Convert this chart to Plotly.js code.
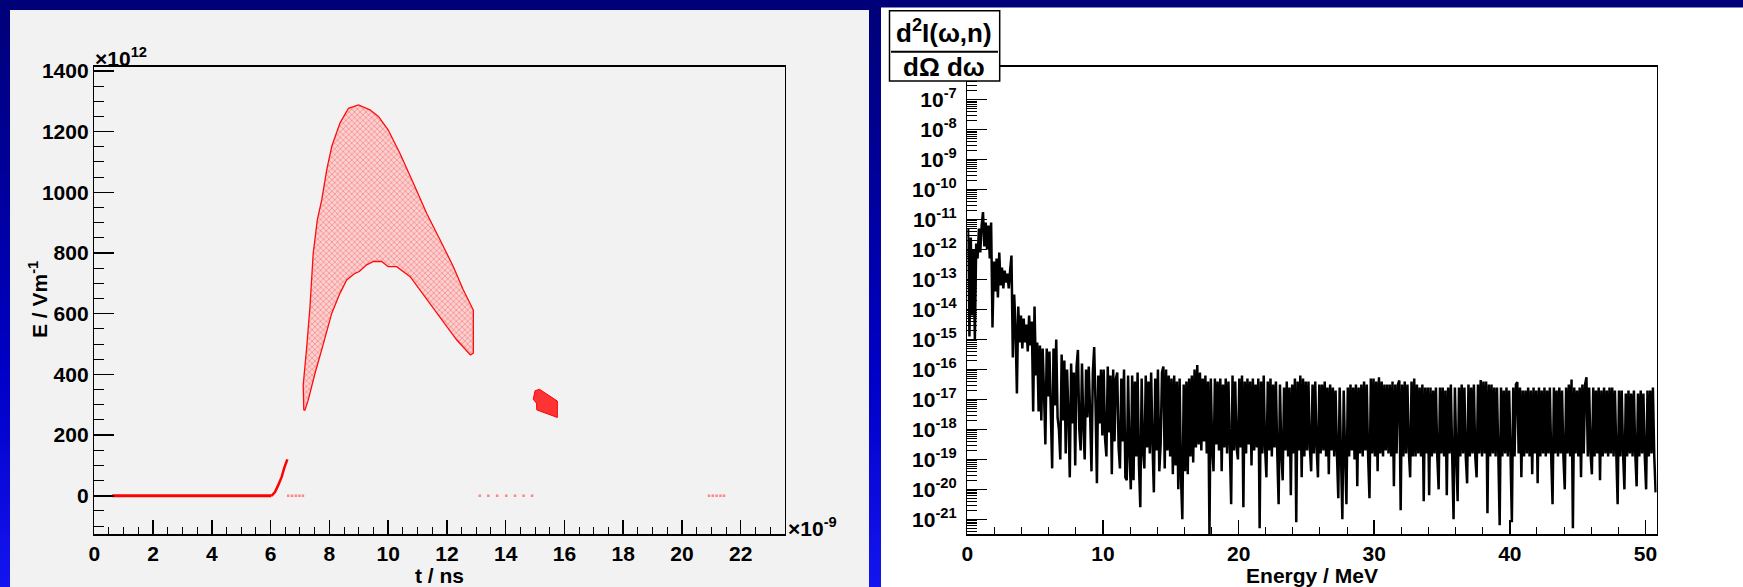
<!DOCTYPE html>
<html>
<head>
<meta charset="utf-8">
<script src="https://cdn.plot.ly/plotly-3.0.1.min.js"></script>
<style>
  html, body { margin:0; padding:0; }
  body { width:1743px; height:587px; overflow:hidden;
    background: linear-gradient(180deg, #000078 0%, #00009a 30%, #0000c8 65%, #1414f0 100%); }
  #chart { width:1743px; height:587px; }
</style>
</head>
<body>
<div id="chart"></div>
<script>
// ---------------- LEFT: E-field vs time (t in ns, E in 1e12 V/m) ----------------
const baseT = [0.61, 1.5, 3.0, 4.5, 5.6, 6.03];
const baseE = [0, 0, 0, 0, 0, 0];

const riseT = [6.03, 6.15, 6.26, 6.38, 6.46, 6.52, 6.57];
const riseE = [0, 12, 35, 63, 90, 108, 120];

// outline of the large pulse band (outer edge left->right, then inner edge right->left)
const humpT = [7.13, 7.11, 7.23, 7.34, 7.45, 7.59, 7.74, 7.91, 8.08, 8.36, 8.65, 8.99, 9.38, 9.67, 10.0, 10.4, 10.86, 11.31, 11.77, 12.22, 12.56, 12.85, 12.9, 12.9, 12.8,
               12.33, 11.82, 11.31, 10.75, 10.29, 10.0, 9.78, 9.5, 9.27, 9.1, 9.02, 8.87, 8.59, 8.36, 8.08, 7.8, 7.51, 7.28, 7.17, 7.13];
const humpE = [282, 365, 491, 623, 799, 909, 975, 1074, 1151, 1228, 1277, 1288, 1272, 1250, 1206, 1129, 1030, 931, 843, 755, 678, 623, 612, 470, 464,
               514, 580, 646, 722, 755, 755, 772, 772, 761, 744, 739, 733, 711, 667, 601, 502, 403, 315, 282, 282];

// small patch near 15 ns
const patchT = [14.94, 15.0, 15.15, 15.76, 15.76, 15.55, 15.06, 15.05, 14.94];
const patchE = [318, 346, 351, 312, 258, 265, 283, 305, 318];

// faint isolated samples on the zero line
const dotT = [6.6, 6.73, 6.86, 6.98, 7.1, 13.12, 13.41, 13.71, 14.02, 14.32, 14.61, 14.9, 20.92, 21.05, 21.18, 21.31, 21.43];
const dotE = [0, 0, 0, 0, 0, 0, 0, 0, 0, 0, 0, 0, 0, 0, 0, 0, 0];

const leftXTicks = [0, 2, 4, 6, 8, 10, 12, 14, 16, 18, 20, 22];
const leftYTicks = [0, 200, 400, 600, 800, 1000, 1200, 1400];

// ---------------- RIGHT: spectrum d2I/dOmega domega vs energy ----------------
// histogram: bins of 0.1 MeV starting at 0 MeV; values are log10 of bin content
const specBinStart = 0.0;
const specBinWidth = 0.1;
const specLog = [
 -11.3,-14.9,-11.6,-14.2,-12.0,-15.0,-11.8,-12.3,-11.3,-12.1,
 -11.2,-10.75,-11.9,-11.1,-12.0,-11.2,-12.3,-11.1,-14.6,-12.4,
 -13.4,-12.3,-13.6,-12.1,-13.2,-12.6,-13.3,-12.7,-13.1,-12.8,
 -13.3,-12.7,-12.2,-15.6,-13.5,-14.6,-16.8,-13.9,-15.1,-14.2,
 -15.3,-14.3,-15.1,-14.5,-15.4,-14.2,-15.2,-14.4,-17.4,-13.9,
 -16.2,-15.1,-17.4,-15.2,-17.7,-15.3,-16.8,-18.5,-15.3,-16.9,
 -15.4,-17.4,-19.3,-15.3,-17.2,-15.0,-17.6,-18.0,-19.0,-15.5,
 -17.7,-15.7,-18.8,-16.0,-17.5,-19.6,-15.8,-17.8,-16.1,-19.2,
 -15.9,-15.35,-18.0,-18.7,-15.8,-17.9,-19.0,-16.0,-17.6,-15.9,
 -17.5,-19.4,-16.1,-15.25,-17.2,-19.8,-16.2,-17.8,-16.0,-18.2,
 -16.0,-18.3,-18.9,-15.9,-18.1,-16.2,-19.5,-16.0,-18.4,-16.3,
 -16.1,-18.6,-19.3,-16.3,-18.4,-16.0,-19.6,-19.7,-16.2,-18.8,
 -20.0,-16.2,-19.7,-16.4,-18.9,-16.1,-19.2,-20.6,-16.3,-18.7,
 -19.3,-16.2,-18.6,-16.4,-18.8,-16.1,-18.5,-20.1,-16.3,-18.7,
 -16.0,-19.4,-18.5,-16.1,-15.9,-19.3,-16.0,-18.7,-16.2,-18.9,
 -16.3,-19.5,-16.2,-19.2,-16.4,-20.0,-16.3,-19.6,-21.0,-16.5,
 -19.4,-16.4,-19.5,-16.3,-18.9,-16.2,-19.1,-16.0,-18.6,-15.85,
 -18.5,-16.1,-18.7,-16.3,-18.4,-16.2,-18.8,-16.4,-21.5,-16.3,
 -18.6,-19.4,-16.3,-18.5,-16.4,-18.7,-16.3,-19.4,-16.5,-18.6,
 -16.3,-18.8,-16.4,-18.5,-20.5,-16.2,-18.7,-16.4,-18.6,-19.0,
 -16.3,-18.6,-16.2,-20.6,-16.4,-18.8,-16.3,-18.5,-16.4,-19.2,
 -16.3,-18.7,-16.5,-18.6,-16.3,-21.3,-16.4,-18.8,-16.2,-18.6,
 -19.6,-16.4,-18.7,-16.3,-18.9,-16.5,-18.6,-16.4,-18.8,-20.5,
 -16.5,-18.8,-19.7,-16.6,-18.7,-16.4,-18.9,-16.6,-20.2,-16.5,
 -18.8,-16.3,-21.1,-16.4,-18.7,-16.2,-19.6,-16.3,-18.9,-16.4,
 -18.7,-16.4,-18.6,-19.4,-16.5,-18.8,-16.4,-18.6,-19.6,-16.5,
 -18.8,-16.5,-18.7,-16.4,-18.9,-16.6,-19.5,-16.5,-18.7,-16.6,
 -18.9,-16.7,-18.8,-20.3,-16.6,-18.9,-21.0,-16.7,-18.8,-20.5,
 -16.6,-18.9,-16.5,-18.7,-16.6,-19.0,-16.5,-19.9,-16.6,-18.8,
 -16.5,-18.9,-16.4,-18.7,-16.5,-18.9,-20.3,-16.3,-18.8,-16.3,
 -18.9,-16.4,-19.4,-16.26,-18.8,-16.4,-18.9,-16.5,-18.7,-16.5,
 -18.8,-16.5,-18.9,-16.4,-19.9,-16.5,-18.8,-16.5,-16.37,-20.7,
 -16.5,-18.9,-16.4,-18.8,-16.5,-18.7,-19.6,-16.4,-18.9,-16.3,
 -18.9,-16.5,-18.8,-16.6,-18.9,-16.5,-20.4,-16.6,-18.8,-16.6,
 -20.2,-16.6,-18.9,-16.7,-18.8,-16.6,-18.9,-20.0,-16.6,-18.8,
 -16.6,-18.9,-16.7,-20.2,-16.6,-18.8,-16.5,-18.9,-21.0,-16.6,
 -18.8,-20.4,-16.6,-18.9,-16.5,-18.8,-16.6,-18.9,-19.8,-16.5,
 -18.9,-16.6,-18.8,-16.5,-18.9,-19.6,-16.5,-18.8,-16.35,-18.9,
 -16.4,-18.8,-16.4,-20.8,-16.5,-18.9,-16.5,-18.8,-16.6,-18.9,
 -16.6,-18.8,-21.2,-16.6,-18.9,-16.7,-18.8,-16.6,-18.9,-16.7,
 -18.8,-21.1,-16.6,-18.9,-16.5,-16.42,-18.8,-16.6,-19.6,-16.7,
 -18.9,-16.7,-18.8,-16.6,-18.9,-16.7,-19.5,-16.6,-18.8,-16.7,
 -19.8,-16.6,-18.9,-16.7,-18.8,-16.6,-18.9,-16.7,-18.8,-16.6,
 -18.9,-20.5,-16.6,-18.8,-16.7,-18.9,-16.6,-18.8,-16.7,-18.9,
 -20.0,-16.6,-18.8,-16.5,-18.9,-16.34,-21.3,-16.6,-18.8,-16.7,
 -18.9,-16.6,-19.6,-16.5,-18.8,-16.5,-16.26,-18.9,-16.6,-18.8,
 -19.5,-16.6,-18.9,-16.7,-18.8,-16.6,-19.7,-16.7,-18.9,-16.6,
 -18.8,-16.7,-18.9,-16.6,-18.8,-16.6,-18.9,-16.7,-18.8,-20.5,
 -16.7,-18.9,-16.7,-18.8,-20.0,-16.8,-18.9,-16.7,-18.8,-16.8,
 -18.9,-16.7,-18.8,-19.9,-16.8,-18.9,-16.7,-18.8,-16.8,-18.9,
 -20.0,-16.7,-18.9,-16.7,-18.8,-16.6,-18.9,-20.1
];
const rightXTicks = [0, 10, 20, 30, 40, 50];
const rightYExponents = [-7, -8, -9, -10, -11, -12, -13, -14, -15, -16, -17, -18, -19, -20, -21];

// ---------------- build ----------------
const specE = specLog.map((v, i) => specBinStart + (i + 0.5) * specBinWidth);
const specY = specLog.map(v => Math.pow(10, v));

const W = 1743, H = 587;
const px = x => x / W;
const py = y => 1 - y / H;

const FONT = 'Liberation Sans, Arial, Helvetica, sans-serif';
const tickFont = {family: FONT, size: 21, color: '#000', weight: 'bold'};
const titleFont = {family: FONT, size: 21, color: '#000', weight: 'bold'};

const traces = [
  {x: baseT, y: baseE, type: 'scatter', mode: 'lines', line: {color: '#ff0000', width: 3}, xaxis: 'x', yaxis: 'y', hoverinfo: 'skip'},
  {x: riseT, y: riseE, type: 'scatter', mode: 'lines', line: {color: '#ff0000', width: 2.5}, xaxis: 'x', yaxis: 'y', hoverinfo: 'skip'},
  {x: humpT, y: humpE, type: 'scatter', mode: 'lines', fill: 'toself',
   fillcolor: 'rgba(255,120,120,0.45)',
   fillpattern: {shape: 'x', fgcolor: 'rgba(255,20,20,0.8)', bgcolor: 'rgba(255,175,175,0.5)', size: 4, solidity: 0.18},
   line: {color: 'rgba(255,0,0,0.95)', width: 1.3}, xaxis: 'x', yaxis: 'y', hoverinfo: 'skip'},
  {x: patchT, y: patchE, type: 'scatter', mode: 'lines', fill: 'toself', fillcolor: 'rgba(255,30,30,0.9)',
   line: {color: '#ff0000', width: 1}, xaxis: 'x', yaxis: 'y', hoverinfo: 'skip'},
  {x: dotT, y: dotE, type: 'scatter', mode: 'markers', marker: {color: 'rgba(255,90,90,0.7)', size: 2.5, symbol: 'square'},
   xaxis: 'x', yaxis: 'y', hoverinfo: 'skip'},
  {x: specE, y: specY, type: 'scatter', mode: 'lines', line: {color: '#000', width: 2.5, simplify: false},
   xaxis: 'x2', yaxis: 'y2', hoverinfo: 'skip'}
];

const minorLog = [];
for (let d = -22; d <= -6; d++) for (let m = 2; m <= 9; m++) minorLog.push(m * Math.pow(10, d));

const axisCommon = {
  showline: true, mirror: true, linecolor: '#000', linewidth: 1.5,
  showgrid: false, zeroline: false, ticks: 'inside', tickcolor: '#000', tickwidth: 1.5,
  tickfont: tickFont
};

const layout = {
  width: W, height: H,
  margin: {l: 0, r: 0, t: 0, b: 0},
  paper_bgcolor: 'rgba(0,0,0,0)', plot_bgcolor: 'rgba(0,0,0,0)',
  showlegend: false,
  xaxis: Object.assign({}, axisCommon, {
    domain: [px(94.3), px(784.5)], anchor: 'y', range: [0, 23.49],
    tickmode: 'array', tickvals: leftXTicks, ticktext: leftXTicks.map(String), ticklen: 14,
    minor: {dtick: 0.5, tick0: 0, ticks: 'inside', ticklen: 7, tickcolor: '#000', tickwidth: 1},
    title: {text: 't / ns', font: titleFont, standoff: 0}
  }),
  yaxis: Object.assign({}, axisCommon, {
    domain: [py(534.3), py(66.7)], anchor: 'x', range: [-127, 1414],
    tickmode: 'array', tickvals: leftYTicks, ticktext: leftYTicks.map(String), ticklen: 20,
    minor: {dtick: 50, tick0: 0, ticks: 'inside', ticklen: 10, tickcolor: '#000', tickwidth: 1}
  }),
  xaxis2: Object.assign({}, axisCommon, {
    domain: [px(967.4), px(1656.7)], anchor: 'y2', range: [0, 50.83],
    tickmode: 'array', tickvals: rightXTicks, ticktext: rightXTicks.map(String), ticklen: 14,
    minor: {dtick: 2, tick0: 0, ticks: 'inside', ticklen: 7, tickcolor: '#000', tickwidth: 1},
    title: {text: 'Energy / MeV', font: titleFont, standoff: 0}
  }),
  yaxis2: Object.assign({}, axisCommon, {
    domain: [py(534.3), py(66.7)], anchor: 'x2', type: 'log', range: [-21.5, -5.9],
    tickmode: 'array', tickvals: rightYExponents.map(e => Math.pow(10, e)),
    ticktext: rightYExponents.map(e => '10<sup>' + e + '</sup>'), ticklen: 20, ticklabelstandoff: 5,
    minor: {tickmode: 'array', tickvals: minorLog, ticks: 'inside', ticklen: 10, tickcolor: '#000', tickwidth: 1}
  }),
  shapes: [
    {type: 'rect', xref: 'paper', yref: 'paper', x0: px(10), x1: px(869), y0: 0, y1: py(10), fillcolor: '#f2f2f2', line: {width: 0}, layer: 'below'},
    {type: 'rect', xref: 'paper', yref: 'paper', x0: px(881), x1: 1, y0: 0, y1: py(7.5), fillcolor: '#ffffff', line: {width: 0}, layer: 'below'},
    {type: 'rect', xref: 'paper', yref: 'paper', x0: px(889.5), x1: px(999.7), y0: py(81), y1: py(10.7), fillcolor: '#ffffff', line: {color: '#000', width: 1.5}, layer: 'above'},
    {type: 'line', xref: 'paper', yref: 'paper', x0: px(891), x1: px(998), y0: py(51.7), y1: py(51.7), line: {color: '#000', width: 2}, layer: 'above'}
  ],
  annotations: [
    {xref: 'paper', yref: 'paper', x: px(93), y: py(57), xanchor: 'left', yanchor: 'middle', showarrow: false,
     text: '×10<sup>12</sup>', font: {family: FONT, size: 21, color: '#000', weight: 'bold'}},
    {xref: 'paper', yref: 'paper', x: px(786), y: py(527), xanchor: 'left', yanchor: 'middle', showarrow: false,
     text: '×10<sup>-9</sup>', font: {family: FONT, size: 21, color: '#000', weight: 'bold'}},
    {xref: 'paper', yref: 'paper', x: px(38), y: py(300), xanchor: 'center', yanchor: 'middle', showarrow: false, textangle: -90,
     text: 'E / Vm<sup>-1</sup>', font: titleFont},
    {xref: 'paper', yref: 'paper', x: px(944), y: py(31), xanchor: 'center', yanchor: 'middle', showarrow: false,
     text: 'd<sup>2</sup>I(ω,n)', font: {family: FONT, size: 26, color: '#000', weight: 'bold'}},
    {xref: 'paper', yref: 'paper', x: px(944), y: py(67), xanchor: 'center', yanchor: 'middle', showarrow: false,
     text: 'dΩ dω', font: {family: FONT, size: 26, color: '#000', weight: 'bold'}}
  ]
};

Plotly.newPlot('chart', traces, layout, {staticPlot: true, displayModeBar: false});
</script>
</body>
</html>
